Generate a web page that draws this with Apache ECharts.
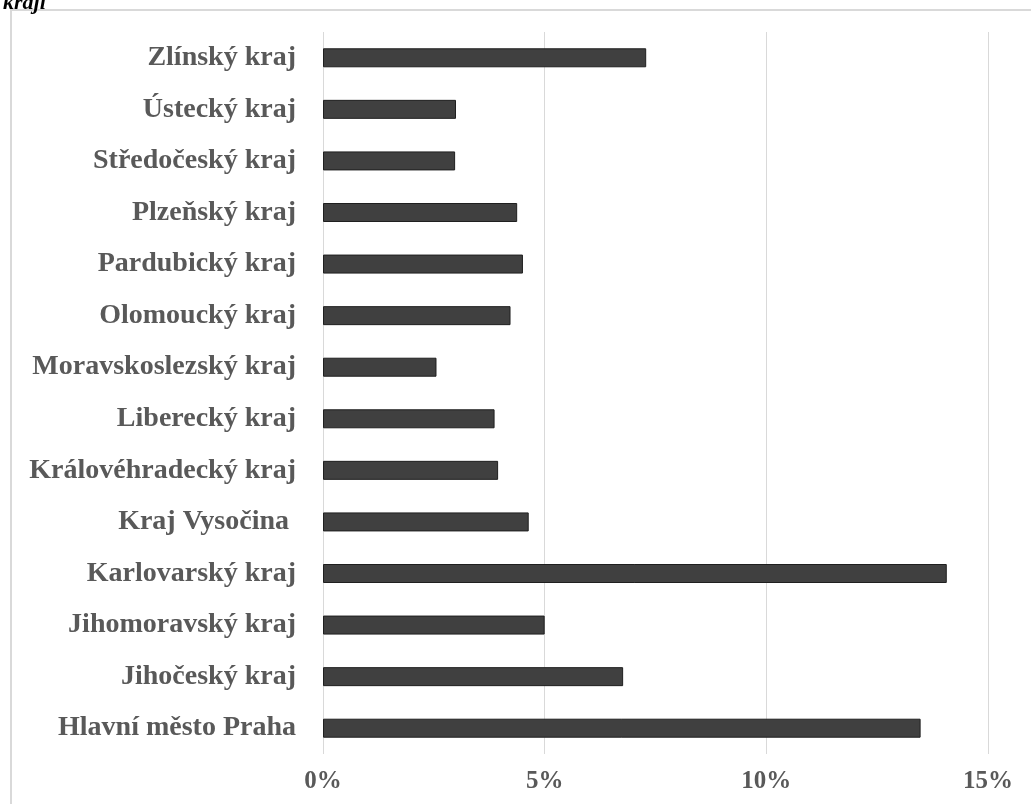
<!DOCTYPE html>
<html>
<head>
<meta charset="utf-8">
<script src="https://cdn.jsdelivr.net/npm/echarts@6/dist/echarts.min.js"></script>
<style>html,body{margin:0;padding:0;background:#fff;}#c{width:1031px;height:804px;}</style>
</head>
<body>
<div id="c"></div>
<script>
const categories = ["Hlavní město Praha","Jihočeský kraj","Jihomoravský kraj","Karlovarský kraj","Kraj Vysočina ","Královéhradecký kraj","Liberecký kraj","Moravskoslezský kraj","Olomoucký kraj","Pardubický kraj","Plzeňský kraj","Středočeský kraj","Ústecký kraj","Zlínský kraj"];
const values = [13.48, 6.77, 5.00, 14.07, 4.64, 3.95, 3.87, 2.56, 4.23, 4.51, 4.38, 2.98, 3.00, 7.29];
const xTicks = [0, 5, 10, 15];
const titleText = "kraji";

const chart = echarts.init(document.getElementById('c'), null, {renderer: 'canvas'});
const serif = "'Liberation Serif', 'Times New Roman', serif";
chart.setOption({
  animation: false,
  backgroundColor: '#fff',
  title: {
    text: titleText, left: -2, top: -13,
    textStyle: {fontFamily: serif, fontWeight: 'bold', fontStyle: 'italic', fontSize: 22, color: '#000'}
  },
  graphic: [{
    type: 'rect', shape: {x: 11, y: 10, width: 1040, height: 820},
    style: {fill: 'none', stroke: '#d9d9d9', lineWidth: 2}, silent: true, z: -1
  }],
  grid: {left: 323, right: 43, top: 32, bottom: 50, containLabel: false},
  xAxis: {
    type: 'value', min: xTicks[0], max: xTicks[xTicks.length - 1], interval: 5,
    axisLine: {show: false}, axisTick: {show: false},
    splitLine: {show: true, lineStyle: {color: '#d9d9d9', width: 1}},
    axisLabel: {formatter: v => v + '%', margin: 15, fontFamily: serif, fontWeight: 'bold', fontSize: 25, color: '#595959'}
  },
  yAxis: {
    type: 'category', data: categories,
    axisLine: {show: false}, axisTick: {show: false},
    axisLabel: {margin: 27, fontFamily: serif, fontWeight: 'bold', fontSize: 28, color: '#595959'}
  },
  series: [{
    type: 'bar', data: values, barWidth: 19,
    itemStyle: {color: '#404040', borderColor: '#1f1f1f', borderWidth: 1}
  }]
});
</script>
</body>
</html>
